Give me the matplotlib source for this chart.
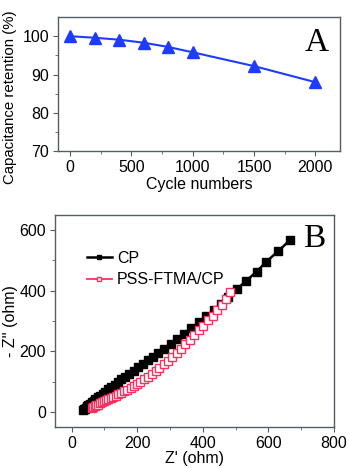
"""Cycling stability and Nyquist plots."""

import matplotlib.pyplot as plt

plt.rcParams["font.family"] = ["Liberation Sans", "DejaVu Sans"]
plt.rcParams["font.size"] = 11.5

# panel A: capacitance retention
cycles = [0, 200, 400, 600, 800, 1000, 1500, 2000]
retention = [100.0, 99.6, 99.1, 98.3, 97.2, 95.8, 92.2, 88.0]

# panel B: Nyquist data (Z', -Z'')
cp_re = [35, 37, 40, 43, 47, 51, 56, 61, 67, 73, 80, 87, 95, 103, 112, 121,
         131, 141, 152, 164, 176, 189, 203, 217, 232, 248, 265, 283, 302, 322,
         343, 365, 388, 411, 435, 455, 477, 503, 533, 564, 594, 629, 665]
cp_im = [5, 8, 11, 14, 18, 22, 26, 31, 36, 42, 48, 54, 60, 67, 74, 82,
         90, 98, 107, 116, 126, 136, 147, 158, 170, 182, 195, 209, 224, 240,
         257, 276, 296, 316, 337, 357, 378, 405, 433, 463, 496, 530, 566]

pss_re = [62, 66, 70, 75, 80, 86, 92, 98, 105, 112, 119, 127, 135, 143, 152,
          161, 170, 180, 190, 200, 210, 221, 232, 244, 256, 268, 281, 294, 307,
          320, 333, 346, 360, 374, 388, 402, 416, 430, 444, 458, 471, 484]
pss_im = [12, 15, 18, 21, 24, 28, 31, 35, 39, 42, 46, 50, 54, 58, 63,
          68, 73, 79, 85, 92, 99, 107, 116, 125, 135, 146, 157, 169, 182,
          195, 209, 223, 238, 253, 269, 285, 302, 318, 335, 352, 372, 397]

spine_color = "#555c66"
blue = "#1e3cff"
red = "#ff3060"


def style_axes(ax):
    for spine in ax.spines.values():
        spine.set_color(spine_color)
        spine.set_linewidth(1.0)
    ax.tick_params(which="both", direction="out", color=spine_color,
                   top=False, right=False, labelsize=11.5)
    ax.tick_params(which="major", length=3.5, pad=3)
    ax.tick_params(which="minor", length=2)


fig = plt.figure(figsize=(3.49, 4.68), dpi=100)

ax_a = fig.add_axes([0.166, 0.677, 0.808, 0.2865])
ax_a.plot(cycles, retention, color=blue, lw=1.5, marker="^", ms=8,
          markeredgecolor=blue)
ax_a.set_xlim(-100, 2200)
ax_a.set_ylim(70, 105)
ax_a.set_xticks([0, 500, 1000, 1500, 2000])
ax_a.set_xticks([250, 750, 1250, 1750], minor=True)
ax_a.set_yticks([70, 80, 90, 100])
ax_a.set_yticks([75, 85, 95], minor=True)
ax_a.set_xlabel("Cycle numbers", labelpad=1)
ax_a.set_ylabel("Capacitance retention (%)", fontsize=10.8)
ax_a.yaxis.set_label_coords(-0.145, 0.40)
ax_a.text(0.918, 0.81, "A", transform=ax_a.transAxes, ha="center", va="center",
          family="Liberation Serif", fontsize=24)
style_axes(ax_a)

ax_b = fig.add_axes([0.158, 0.0876, 0.799, 0.453])
ax_b.plot(cp_re, cp_im, color="black", lw=1.8, marker="s", ms=5.2,
          markerfacecolor="black", markeredgecolor="black", label="CP")
ax_b.plot(pss_re, pss_im, color=red, lw=1.3, marker="s", ms=5.2,
          markerfacecolor="white", markeredgecolor=red, markeredgewidth=1.0,
          label="PSS-FTMA/CP")
ax_b.set_xlim(-50, 800)
ax_b.set_ylim(-50, 650)
ax_b.set_xticks([0, 200, 400, 600, 800])
ax_b.set_xticks([100, 300, 500, 700], minor=True)
ax_b.set_yticks([0, 200, 400, 600])
ax_b.set_yticks([100, 300, 500], minor=True)
ax_b.set_xlabel("Z' (ohm)", labelpad=0)
ax_b.set_ylabel("- Z'' (ohm)", labelpad=1)
ax_b.text(0.93, 0.89, "B", transform=ax_b.transAxes, ha="center", va="center",
          family="Liberation Serif", fontsize=24)
ax_b.legend(loc="upper left", bbox_to_anchor=(0.09, 0.86), frameon=False,
            handlelength=1.6, handletextpad=0.3, labelspacing=0.4,
            markerscale=0.55, fontsize=11.5, borderaxespad=0)
style_axes(ax_b)

fig.savefig("out.png", dpi=100)
